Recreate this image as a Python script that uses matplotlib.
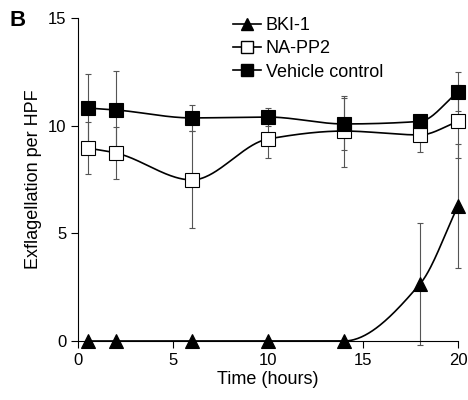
import matplotlib
matplotlib.use('Agg')
import matplotlib.pyplot as plt
import numpy as np

plt.rcParams['font.family'] = ['Liberation Sans', 'DejaVu Sans']

hours = [0.5, 2, 6, 10, 14, 18, 20]

bki = [0, 0, 0, 0, 0, 2.65, 6.27]
bki_err = [0, 0, 0, 0, 0, 2.85, 2.9]

napp2 = [8.96, 8.73, 7.48, 9.38, 9.75, 9.57, 10.2]
napp2_err = [1.2, 1.2, 2.25, 0.9, 1.65, 0.8, 1.7]

vehicle = [10.82, 10.73, 10.36, 10.4, 10.08, 10.2, 11.57]
vehicle_err = [1.6, 1.8, 0.6, 0.4, 1.2, 0.3, 0.9]


def pchip(x, y, xs):
    # monotone cubic, keeps flat runs flat
    x = np.asarray(x, float)
    y = np.asarray(y, float)
    h = np.diff(x)
    d = np.diff(y) / h
    n = len(x)
    m = np.zeros(n)
    for k in range(1, n - 1):
        if d[k - 1] * d[k] > 0:
            w1 = 2 * h[k] + h[k - 1]
            w2 = h[k] + 2 * h[k - 1]
            m[k] = (w1 + w2) / (w1 / d[k - 1] + w2 / d[k])
    m[0] = d[0]
    m[-1] = d[-1]
    ys = np.empty_like(xs)
    for i, xv in enumerate(xs):
        k = min(np.searchsorted(x, xv) - 1, n - 2)
        k = max(k, 0)
        t = (xv - x[k]) / h[k]
        h00 = 2 * t**3 - 3 * t**2 + 1
        h10 = t**3 - 2 * t**2 + t
        h01 = -2 * t**3 + 3 * t**2
        h11 = t**3 - t**2
        ys[i] = h00 * y[k] + h10 * h[k] * m[k] + h01 * y[k + 1] + h11 * h[k] * m[k + 1]
    return ys


fig = plt.figure(figsize=(4.68, 4.0), dpi=100)
ax = fig.add_axes([0.1667, 0.1475, 0.812, 0.8075])

xs = np.linspace(hours[0], hours[-1], 300)

series = [
    ('BKI-1', bki, bki_err, '^', 'black'),
    ('NA-PP2', napp2, napp2_err, 's', 'white'),
    ('Vehicle control', vehicle, vehicle_err, 's', 'black'),
]

for name, vals, err, mk, fc in series:
    ax.errorbar(hours, vals, yerr=err, fmt='none', ecolor='#555555',
                elinewidth=0.8, capsize=2, capthick=0.8, clip_on=False, zorder=2)
    ax.plot(xs, pchip(hours, vals, xs), color='black', lw=1.2, zorder=3)
    ax.plot(hours, vals, linestyle='none', marker=mk, markersize=10,
            markerfacecolor=fc, markeredgecolor='black', markeredgewidth=0.8,
            clip_on=False, zorder=4)
    ax.plot([], [], color='black', lw=1.2, marker=mk, markersize=9,
            markerfacecolor=fc, markeredgecolor='black', label=name)

ax.set_xlim(0, 20)
ax.set_ylim(0, 15)
ax.set_xticks([0, 5, 10, 15, 20])
ax.set_yticks([0, 5, 10, 15])
ax.spines['top'].set_visible(False)
ax.spines['right'].set_visible(False)
ax.tick_params(direction='out', labelsize=12, length=5)
ax.set_xlabel('Time (hours)', fontsize=13, labelpad=2)
ax.set_ylabel('Exflagellation per HPF', fontsize=13, labelpad=4)

ax.legend(loc='upper left', bbox_to_anchor=(0.39, 1.025), frameon=False,
          fontsize=13, handlelength=1.5, handletextpad=0.3, labelspacing=0.35,
          borderaxespad=0)

fig.text(0.02, 0.935, 'B', fontsize=16, fontweight='bold')

plt.savefig('out.png', dpi=100)
